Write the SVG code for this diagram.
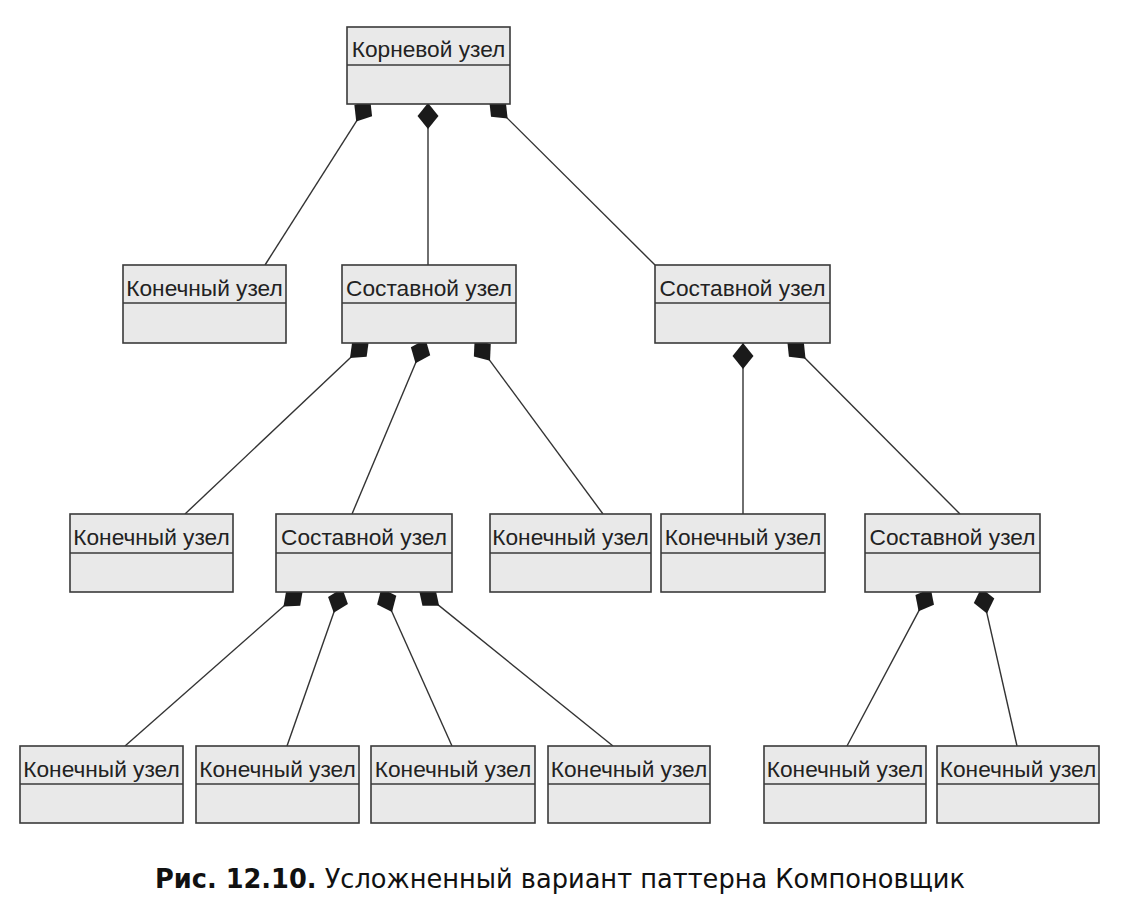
<svg xmlns="http://www.w3.org/2000/svg" width="1131" height="913" viewBox="0 0 1131 913">
<style>
.box{fill:#e9e9e9;stroke:#3a3a3a;stroke-width:1.6}
.div{stroke:#3a3a3a;stroke-width:1.6}
.lbl{font-family:"Liberation Sans",Arial,sans-serif;font-size:22.7px;fill:#222;text-anchor:middle}
.con{stroke:#333;stroke-width:1.4;fill:none;marker-end:url(#dia)}
.cap{font-family:"DejaVu Sans Condensed","Liberation Sans Narrow","Noto Sans",sans-serif;font-size:26.5px;fill:#111}
</style>
<defs>
<marker id="dia" markerUnits="userSpaceOnUse" markerWidth="30" markerHeight="24" viewBox="-27 -12 28 24" refX="0" refY="0" orient="auto">
<path d="M0,0 L-13,-10.5 L-26,0 L-13,10.5 Z" fill="#1a1a1a"/>
</marker>
</defs>
<rect width="1131" height="913" fill="#ffffff"/>
<g id="connectors">
<line class="con" x1="265" y1="265" x2="370.2" y2="99.6"/>
<line class="con" x1="428" y1="265" x2="428" y2="103"/>
<line class="con" x1="655" y1="265" x2="489.2" y2="100.2"/>
<line class="con" x1="185" y1="514" x2="368.9" y2="340.2"/>
<line class="con" x1="352" y1="514" x2="425.6" y2="339.3"/>
<line class="con" x1="603" y1="514" x2="474.6" y2="339.8"/>
<line class="con" x1="743" y1="514" x2="743" y2="343"/>
<line class="con" x1="960" y1="514" x2="787.2" y2="340.2"/>
<line class="con" x1="125" y1="746" x2="303.0" y2="589.3"/>
<line class="con" x1="287" y1="746" x2="342.3" y2="588.2"/>
<line class="con" x1="452" y1="746" x2="381.4" y2="588.3"/>
<line class="con" x1="613" y1="746" x2="418.9" y2="589.4"/>
<line class="con" x1="847" y1="746" x2="930.8" y2="588.4"/>
<line class="con" x1="1017" y1="746" x2="981.2" y2="588.1"/>
</g>
<g id="root">
<rect class="box" x="347" y="27" width="163" height="77"/>
<line class="div" x1="347" y1="65" x2="510" y2="65"/>
<text class="lbl" x="428.5" y="57">Корневой узел</text>
</g>
<g id="leaf-l2">
<rect class="box" x="123" y="265" width="163" height="78"/>
<line class="div" x1="123" y1="303" x2="286" y2="303"/>
<text class="lbl" x="204.5" y="296">Конечный узел</text>
</g>
<g id="comp-l2-a">
<rect class="box" x="342" y="265" width="174" height="78"/>
<line class="div" x1="342" y1="303" x2="516" y2="303"/>
<text class="lbl" x="429" y="296">Составной узел</text>
</g>
<g id="comp-l2-b">
<rect class="box" x="655" y="265" width="175" height="78"/>
<line class="div" x1="655" y1="303" x2="830" y2="303"/>
<text class="lbl" x="742.5" y="296">Составной узел</text>
</g>
<g id="leaf-l3-a">
<rect class="box" x="70" y="514" width="163" height="78"/>
<line class="div" x1="70" y1="553" x2="233" y2="553"/>
<text class="lbl" x="151.5" y="545">Конечный узел</text>
</g>
<g id="comp-l3-a">
<rect class="box" x="276" y="514" width="176" height="78"/>
<line class="div" x1="276" y1="553" x2="452" y2="553"/>
<text class="lbl" x="364" y="545">Составной узел</text>
</g>
<g id="leaf-l3-b">
<rect class="box" x="490" y="514" width="161" height="78"/>
<line class="div" x1="490" y1="553" x2="651" y2="553"/>
<text class="lbl" x="570.5" y="545">Конечный узел</text>
</g>
<g id="leaf-l3-c">
<rect class="box" x="661" y="514" width="164" height="78"/>
<line class="div" x1="661" y1="553" x2="825" y2="553"/>
<text class="lbl" x="743" y="545">Конечный узел</text>
</g>
<g id="comp-l3-b">
<rect class="box" x="865" y="514" width="175" height="78"/>
<line class="div" x1="865" y1="553" x2="1040" y2="553"/>
<text class="lbl" x="952.5" y="545">Составной узел</text>
</g>
<g id="leaf-l4-a">
<rect class="box" x="20" y="746" width="163" height="77"/>
<line class="div" x1="20" y1="784" x2="183" y2="784"/>
<text class="lbl" x="101.5" y="777">Конечный узел</text>
</g>
<g id="leaf-l4-b">
<rect class="box" x="196" y="746" width="163" height="77"/>
<line class="div" x1="196" y1="784" x2="359" y2="784"/>
<text class="lbl" x="277.5" y="777">Конечный узел</text>
</g>
<g id="leaf-l4-c">
<rect class="box" x="371" y="746" width="164" height="77"/>
<line class="div" x1="371" y1="784" x2="535" y2="784"/>
<text class="lbl" x="453" y="777">Конечный узел</text>
</g>
<g id="leaf-l4-d">
<rect class="box" x="548" y="746" width="162" height="77"/>
<line class="div" x1="548" y1="784" x2="710" y2="784"/>
<text class="lbl" x="629" y="777">Конечный узел</text>
</g>
<g id="leaf-l4-e">
<rect class="box" x="764" y="746" width="162" height="77"/>
<line class="div" x1="764" y1="784" x2="926" y2="784"/>
<text class="lbl" x="845" y="777">Конечный узел</text>
</g>
<g id="leaf-l4-f">
<rect class="box" x="937" y="746" width="162" height="77"/>
<line class="div" x1="937" y1="784" x2="1099" y2="784"/>
<text class="lbl" x="1018" y="777">Конечный узел</text>
</g>
<text class="cap" x="155" y="888" textLength="810" lengthAdjust="spacingAndGlyphs"><tspan font-weight="bold">Рис. 12.10.</tspan> Усложненный вариант паттерна Компоновщик</text>
</svg>
